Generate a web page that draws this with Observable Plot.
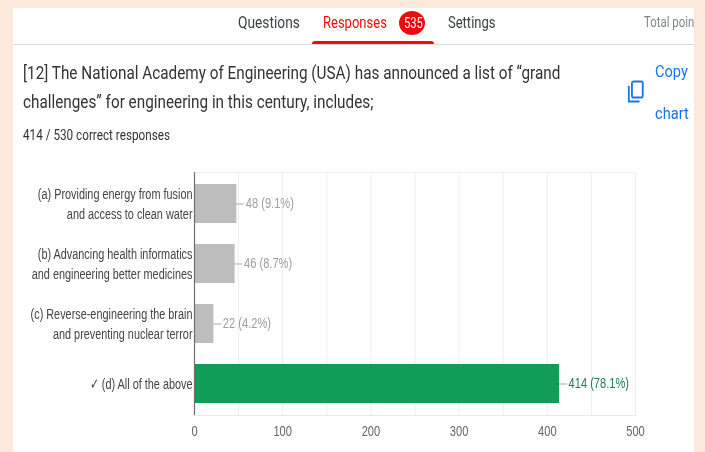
<!DOCTYPE html>
<html><head><meta charset="utf-8">
<script src="https://cdn.jsdelivr.net/npm/d3@7"></script>
<script src="https://cdn.jsdelivr.net/npm/@observablehq/plot@0.6"></script>
<style>
html,body{margin:0;padding:0;background:#fce9dc;width:705px;height:452px;overflow:hidden}
#card{position:absolute;left:13px;top:8px;width:681px;height:444px;background:#fff;overflow:hidden;filter:blur(.3px)}
.t{position:absolute;white-space:nowrap;font-family:Roboto,sans-serif;transform-origin:left center;line-height:1}
#rule{position:absolute;left:0;top:36px;width:681px;height:1px;background:#dadce0}
#tab{position:absolute;left:299px;top:33px;width:122px;height:3px;background:#f40b0b;border-radius:3px 3px 0 0}
#badge{position:absolute;left:386px;top:3px;width:26px;height:24px;border-radius:50%;background:#ee0a0a}
#chart{position:absolute;left:0;top:151px}
svg.icon{position:absolute;left:614px;top:71px}
</style></head><body>
<div id="card">
  <div class="t" style="left:225px;top:6px;font-size:17px;color:#3c4043;transform:scaleX(.81)">Questions</div>
  <div class="t" style="left:310px;top:6px;font-size:17px;color:#f40b0b;transform:scaleX(.765)">Responses</div>
  <div id="badge"></div>
  <div class="t" style="left:391px;top:8px;font-size:14px;color:#fff;transform:scaleX(.8)">535</div>
  <div class="t" style="left:435px;top:6px;font-size:17px;color:#3c4043;transform:scaleX(.765)">Settings</div>
  <div class="t" style="left:631px;top:7px;font-size:15px;color:#80868b;transform:scaleX(.76)">Total poin</div>
  <div id="rule"></div><div id="tab"></div>
  <div class="t" style="left:10px;top:55px;font-size:19px;color:#333;transform:scaleX(.805)">[12] The National Academy of Engineering (USA) has announced a list of “grand</div>
  <div class="t" style="left:10px;top:84px;font-size:19px;color:#333;transform:scaleX(.805)">challenges” for engineering in this century, includes;</div>
  <div class="t" style="left:10px;top:120px;font-size:14px;color:#333;transform:scaleX(.837)">414 / 530 correct responses</div>
  <div class="t" style="left:642px;top:55px;font-size:17px;color:#1a73e8;transform:scaleX(.86)">Copy</div>
  <div class="t" style="left:642px;top:97px;font-size:17px;color:#1a73e8;transform:scaleX(.86)">chart</div>
  <svg class="icon" width="18" height="26" viewBox="0 0 20 26" preserveAspectRatio="none"><path d="M7 2.5h9a1.5 1.5 0 0 1 1.5 1.5v13a1.5 1.5 0 0 1-1.5 1.5H7A1.5 1.5 0 0 1 5.5 17V4A1.5 1.5 0 0 1 7 2.5zM2 7v15.5h12" fill="none" stroke="#1a73e8" stroke-width="2"/></svg>
  <div id="chart"></div>
</div>
<script>
const categories = [
  "(a) Providing energy from fusion\nand access to clean water",
  "(b) Advancing health informatics\nand engineering better medicines",
  "(c) Reverse-engineering the brain\nand preventing nuclear terror",
  "✓ (d) All of the above"
];
const counts = [48, 46, 22, 414];
const percents = ["9.1%", "8.7%", "4.2%", "78.1%"];
const correct = [false, false, false, true];
const xTicks = [0, 100, 200, 300, 400, 500];
const xGrid = [0, 50, 100, 150, 200, 250, 300, 350, 400, 450, 500];

const rows = categories.map((c, i) => ({c, n: counts[i], p: percents[i], ok: correct[i]}));
const font = "'Liberation Sans',Arial,sans-serif";

const plot = Plot.plot({
  width: 681, height: 293,
  marginTop: 13, marginBottom: 37, marginLeft: 181, marginRight: 59,
  style: {fontFamily: font, fontSize: "15px", background: "transparent", overflow: "visible"},
  x: {domain: [0, 500]},
  y: {domain: categories, paddingInner: 0.35, paddingOuter: 0.175},
  marks: [
    Plot.ruleX(xGrid, {stroke: "#eeeeee", strokeWidth: 1, strokeOpacity: 1}),
    Plot.frame({anchor: "bottom", stroke: "#e8e8e8"}),
    Plot.frame({anchor: "top", stroke: "#f0f0f0"}),
    Plot.barX(rows, {x1: 0, x2: "n", y: "c", fill: d => d.ok ? "#0f9d58" : "#bdbdbd"}),
    Plot.ruleY(rows, {x1: "n", x2: d => d.n + 9, y: "c", stroke: "#a9a9a9", strokeWidth: 1}),
    Plot.text(rows, {x: d => d.n + 9, y: "c", text: d => `${d.n} (${d.p})`, textAnchor: "start", dx: 1, dy: -1,
      fill: d => d.ok ? "#1e7a4c" : "#9e9e9e", fontSize: 15}),
    Plot.ruleX([0], {stroke: "#6e6e6e", strokeWidth: 1.2}),
    Plot.axisY({tickSize: 0, tickPadding: 2, label: null, lineHeight: 1.33, dy: -1, fill: "#444", fontSize: 15, textOverflow: null, lineWidth: Infinity, tickFormat: d => d}),
    Plot.axisX({ticks: xTicks, tickSize: 0, tickPadding: 10, label: null, fill: "#666", fontSize: 15})
  ]
});
document.getElementById("chart").append(plot);
// The reference is a horizontally squeezed screenshot: narrow each label about its own anchor.
d3.select(plot).selectAll("text").each(function () {
  const isY = this.parentNode.getAttribute("aria-label") === "y-axis tick label";
  const t = this.getAttribute("transform") || "";
  this.setAttribute("transform", t + ` scale(${isY ? .725 : .74},1)`);
});
</script>
</body></html>
